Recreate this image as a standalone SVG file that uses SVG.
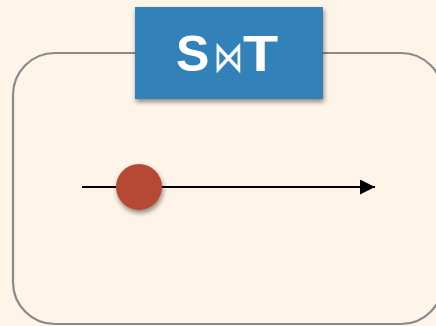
<svg xmlns="http://www.w3.org/2000/svg" width="436" height="326" viewBox="0 0 436 326">
  <style>
    .frame { fill: none; stroke: #88898b; stroke-width: 2.2; }
    .edge { fill: none; stroke: #000; stroke-width: 2.2; }
    .title { font-family: "Liberation Sans", Arial, sans-serif; font-weight: bold; font-size: 50px; fill: #fff; }
    .join { font-family: "DejaVu Sans", sans-serif; font-size: 48px; fill: #fff; text-anchor: middle; }
  </style>
  <defs>
    <filter id="shadow" x="-20%" y="-20%" width="150%" height="160%">
      <feGaussianBlur in="SourceAlpha" stdDeviation="2.5"/>
      <feOffset dx="1" dy="3" result="b"/>
      <feComponentTransfer><feFuncA type="linear" slope="0.45"/></feComponentTransfer>
      <feMerge><feMergeNode/><feMergeNode in="SourceGraphic"/></feMerge>
    </filter>
    <marker id="arrow" markerWidth="16" markerHeight="16" refX="15" refY="7.5" orient="auto" markerUnits="userSpaceOnUse">
      <path d="M0,0 L15,7.5 L0,15 Z" fill="#000"/>
    </marker>
  </defs>

  <rect width="436" height="326" fill="#fef4e8"/>

  <!-- outer frame -->
  <g id="frame">
    <rect class="frame" x="13" y="53" width="430" height="271" rx="42" ry="42"/>
  </g>

  <!-- connectors -->
  <g id="connectors">
    <line class="edge" x1="82" y1="187" x2="375" y2="187" marker-end="url(#arrow)"/>
  </g>

  <!-- title node -->
  <g id="title-node">
    <rect x="135" y="7" width="188" height="92" fill="#3381b8" filter="url(#shadow)"/>
    <text class="title" x="176" y="71">S</text>
    <text class="join" transform="translate(228,72) scale(0.62,0.92)" x="0" y="0">⋈</text>
    <text class="title" x="243" y="71" transform="translate(243,0) scale(1.15,1) translate(-243,0)">T</text>
  </g>

  <!-- point node -->
  <g id="point">
    <circle cx="139" cy="187" r="23" fill="#b54934" filter="url(#shadow)"/>
  </g>
</svg>
